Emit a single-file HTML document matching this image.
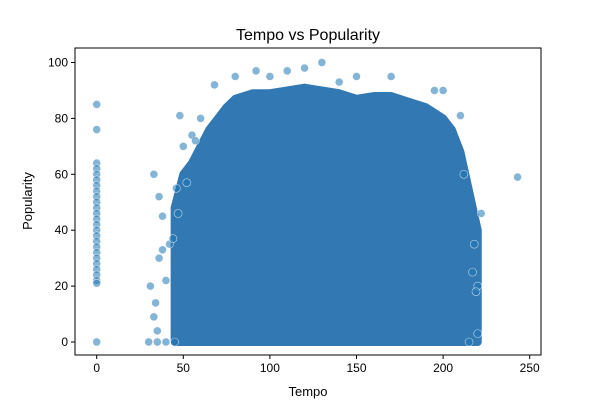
<!DOCTYPE html>
<html><head><meta charset="utf-8"><style>
body{margin:0;background:#fff;font-family:"Liberation Sans","DejaVu Sans",sans-serif}
</style></head><body>
<svg id="chart" width="600" height="400" xmlns="http://www.w3.org/2000/svg"></svg>
<script>
// envelope of the dense point cloud (upper popularity per tempo bin, lower is 0)
const envTempo = [45,50,55,60,65,70,75,80,90,100,110,120,130,140,150,160,170,180,190,200,205,210,215,220];
const envUpper = [48,60,64,70,76,80,84,87,89,89,90,91,90,89,87,88,88,86,84,80,76,68,54,40];
// individual visible points
const ptTempo = [0,0,0,0,0,0,0,0,0,0,0,0,0,0,0,0,0,0,0,0,0,0,0,0,0,0,
  31,33,35,34,36,38,40,42,44,30,35,40,45,48,243,220,222,218,215,220,217,
  68,80,92,110,120,130,170,195,200,150,140,100,60,55,50,46,47,52,57,38,36,33,210,212,219];
const ptPop = [85,76,64,62,60,58,56,54,52,50,48,46,44,42,40,38,36,34,32,30,28,26,24,22,21,0,
  20,60,4,14,52,45,22,35,37,0,0,0,0,81,59,20,46,35,0,3,25,
  92,95,97,97,98,100,95,90,90,95,93,95,80,74,70,55,46,57,72,33,30,9,81,60,18];
const xTicks=[0,50,100,150,200,250], yTicks=[0,20,40,60,80,100];
const L=75,R=541,T=48,B=355;
const xs=v=>96.7+v*1.732, ys=v=>342-v*2.795;
const svg=document.getElementById('chart'), NS='http://www.w3.org/2000/svg';
function mk(t,a,p){const e=document.createElementNS(NS,t);for(const k in a)e.setAttribute(k,a[k]);(p||svg).appendChild(e);return e;}
// dense cloud
let d='M'+xs(envTempo[0])+','+ys(0);
envTempo.forEach((t,i)=>{d+=' L'+xs(t)+','+ys(envUpper[i]);});
d+=' L'+xs(envTempo[envTempo.length-1])+','+ys(0)+' Z';
const cloud=mk('path',{d:d,fill:'#3279b3',stroke:'#3279b3','stroke-width':8,'stroke-linejoin':'round'});


// points
ptTempo.forEach((t,i)=>{
  const c=mk('circle',{cx:xs(t),cy:ys(ptPop[i]),r:4,fill:'#1f77b4','fill-opacity':0.55,stroke:'#fff','stroke-width':0.6,'stroke-opacity':0.7});
  
  
});
// axes frame
const fr=mk('rect',{x:L,y:T,width:R-L,height:B-T,fill:'none',stroke:'#000','stroke-width':1});


xTicks.forEach(v=>{
  mk('line',{x1:xs(v),y1:B,x2:xs(v),y2:B+4,stroke:'#000'});
  const t=mk('text',{x:xs(v),y:B+17,'text-anchor':'middle','font-size':12,fill:'#000'});t.textContent=v;
  
  
});
yTicks.forEach(v=>{
  mk('line',{x1:L-4,y1:ys(v),x2:L,y2:ys(v),stroke:'#000'});
  const t=mk('text',{x:L-7,y:ys(v)+4,'text-anchor':'end','font-size':12,fill:'#000'});t.textContent=v;
  
  
});
const xt=mk('text',{x:308,y:396,'text-anchor':'middle','font-size':13});xt.textContent='Tempo';


const yt=mk('text',{x:32,y:201,'text-anchor':'middle','font-size':13,transform:'rotate(-90 32 201)'});yt.textContent='Popularity';


const ti=mk('text',{x:308,y:40,'text-anchor':'middle','font-size':16});ti.textContent='Tempo vs Popularity';


</script>
</body></html>
